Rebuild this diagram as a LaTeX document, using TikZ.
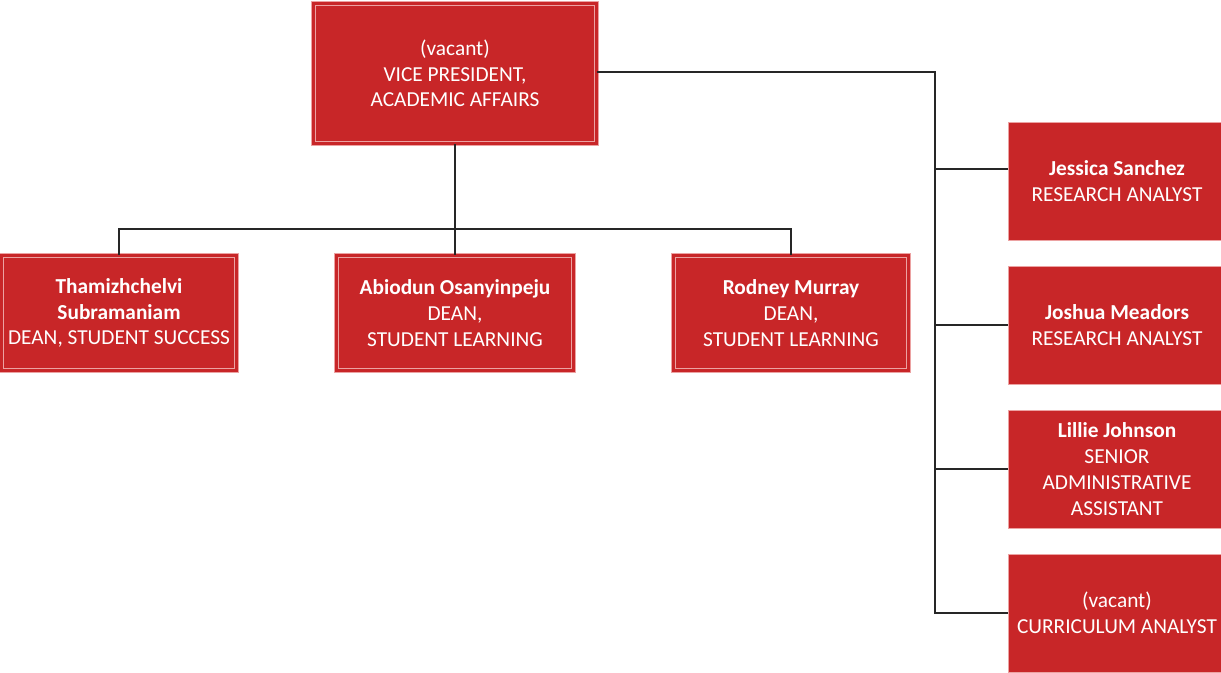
\documentclass[tikz,border=0pt]{standalone}
\usepackage{fontspec}
\setmainfont{Carlito}
\definecolor{chartred}{RGB}{200,38,40}
\definecolor{edgepink}{RGB}{236,162,162}
\begin{document}
\begin{tikzpicture}[x=0.75pt,y=-0.75pt,
    unit/.style={rectangle, fill=chartred, draw=edgepink, line width=0.8pt,
      double=chartred, double distance=2.4pt, text=white, align=center,
      inner sep=0pt, font=\fontsize{16}{19.3}\selectfont},
    staff/.style={rectangle, fill=chartred, draw=edgepink, line width=0.6pt,
      text=white, align=center, inner sep=0pt,
      minimum width=163.5pt, minimum height=88.5pt,
      font=\fontsize{16}{19.3}\selectfont},
    link/.style={draw=black!85, line width=1.1pt}]
    \useasboundingbox (0,0) rectangle (1221,672);
    \node[unit, minimum width=212pt, minimum height=105pt] (vp) at (455,73.5)
      {(vacant)\\VICE PRESIDENT,\\ACADEMIC AFFAIRS};
    \node[unit, minimum width=176pt, minimum height=86pt] (d1) at (119,313)
      {\textbf{Thamizhchelvi}\\\textbf{Subramaniam}\\DEAN, STUDENT SUCCESS};
    \node[unit, minimum width=178pt, minimum height=86pt] (d2) at (455,313)
      {\textbf{Abiodun Osanyinpeju}\\DEAN,\\STUDENT LEARNING};
    \node[unit, minimum width=176pt, minimum height=86pt] (d3) at (791,313)
      {\textbf{Rodney Murray}\\DEAN,\\STUDENT LEARNING};
    \node[staff] (r1) at (1117,181) {\textbf{Jessica Sanchez}\\RESEARCH ANALYST};
    \node[staff] (r2) at (1117,325) {\textbf{Joshua Meadors}\\RESEARCH ANALYST};
    \node[staff] (r3) at (1117,469) {\textbf{Lillie Johnson}\\SENIOR\\ADMINISTRATIVE\\ASSISTANT};
    \node[staff] (r4) at (1117,613) {(vacant)\\CURRICULUM ANALYST};
    % deans
    \coordinate (bus) at (455,229);
    \draw[link] (vp.south) -- (bus);
    \draw[link] (d1.north) |- (bus) -| (d3.north);
    \draw[link] (bus) -- (d2.north);
    % staff on the right
    \coordinate (spine) at (935,72);
    \coordinate (r1in) at ([yshift=9pt]r1.west);
    \draw[link] (vp.east |- spine) -- (spine) -- (spine |- r4.west) -- (r4.west);
    \draw[link] (spine |- r1in) -- (r1in);
    \draw[link] (spine |- r2.west) -- (r2.west);
    \draw[link] (spine |- r3.west) -- (r3.west);
\end{tikzpicture}
\end{document}
